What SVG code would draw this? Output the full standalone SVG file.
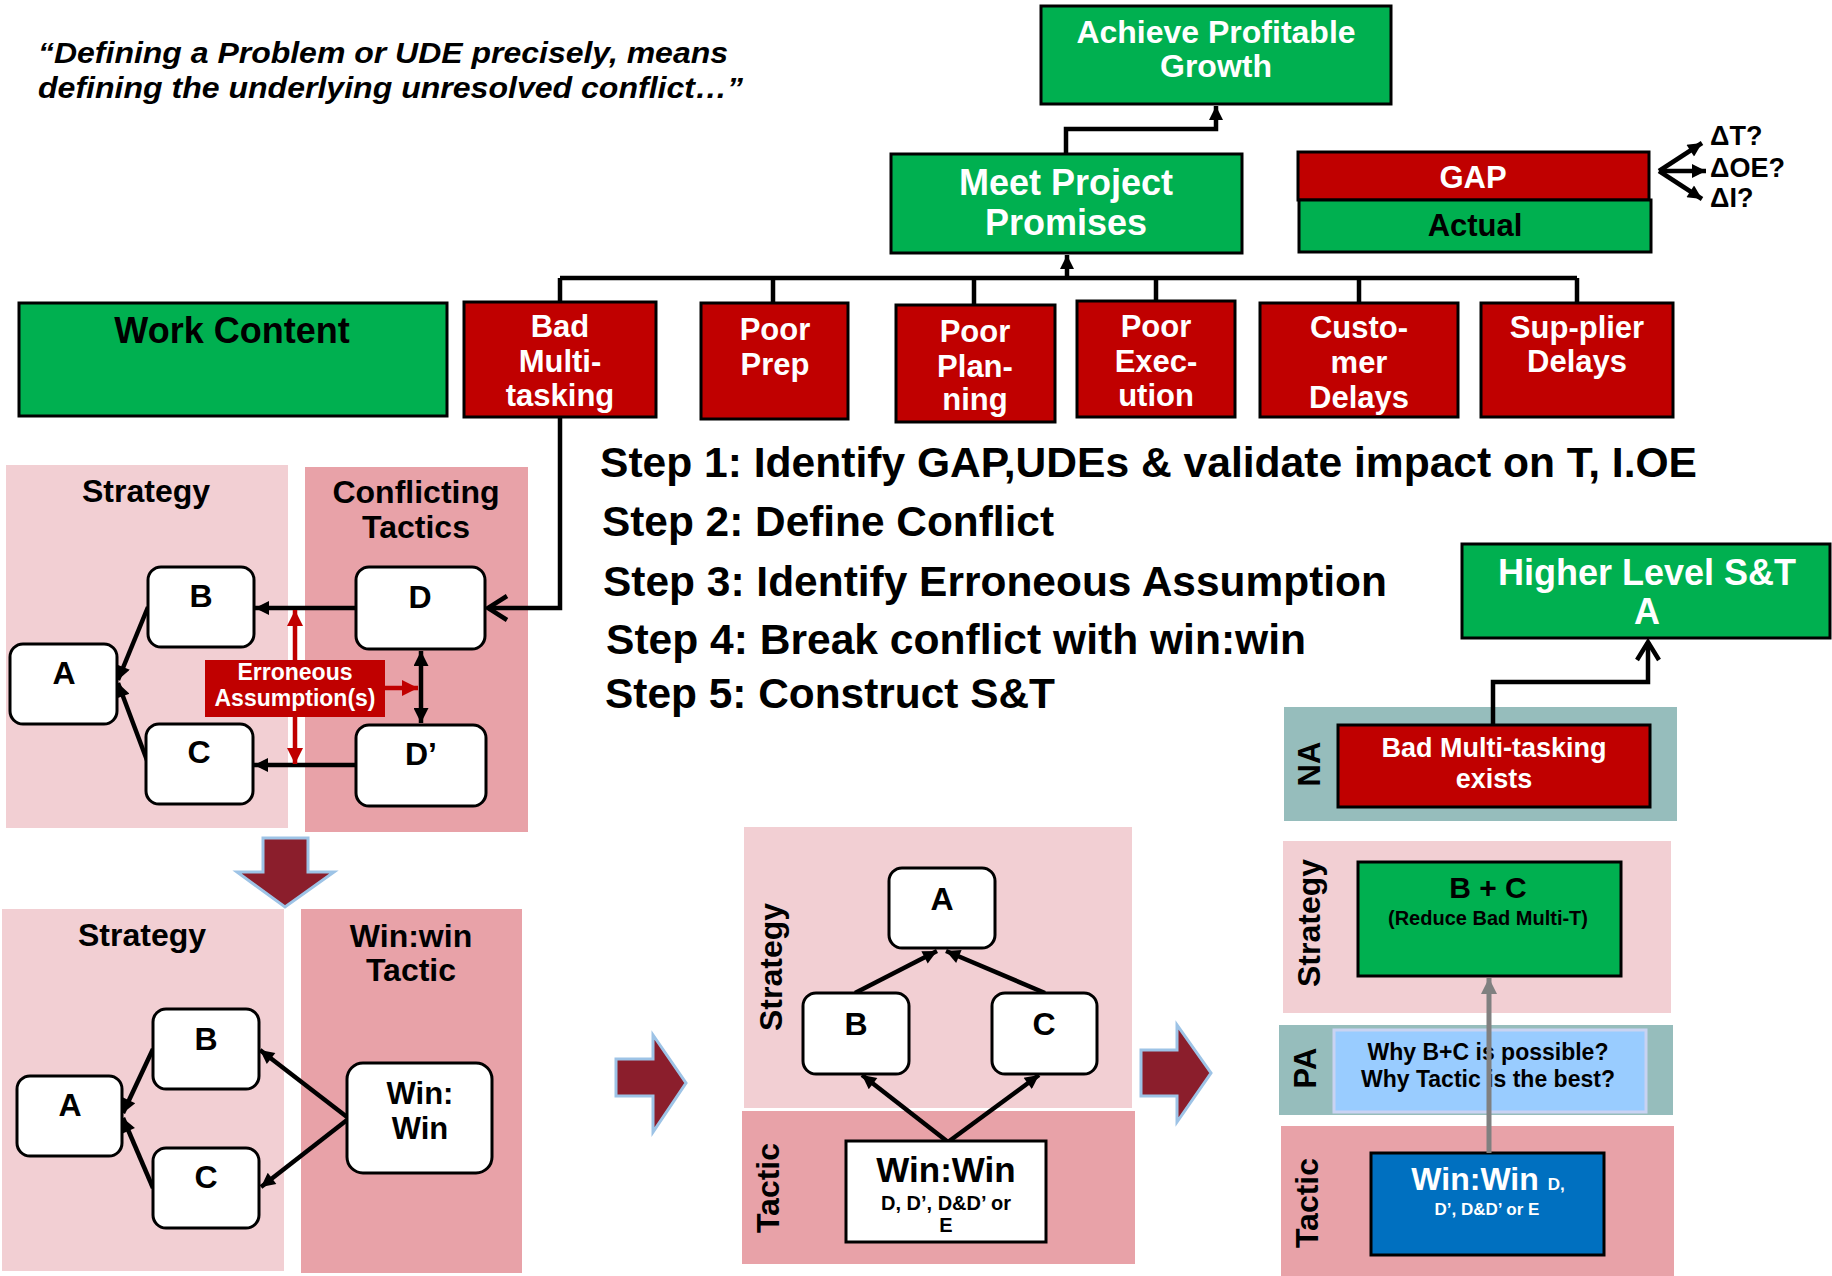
<svg xmlns="http://www.w3.org/2000/svg" width="1832" height="1276" viewBox="0 0 1832 1276">
  <defs>
    <style>
      text { font-family: "Liberation Sans", Arial, sans-serif; font-weight: bold; }
      .w { fill: #ffffff; }
      .k { fill: #000000; }
      .mid { text-anchor: middle; }
      .green { fill: #00B050; stroke: #000; stroke-width: 3; }
      .red { fill: #C00000; stroke: #000; stroke-width: 3; }
      .rbox { fill: #ffffff; stroke: #000; stroke-width: 3; }
      .pinkL { fill: #F2CFD3; }
      .pinkD { fill: #E8A2A8; }
      .teal { fill: #96BDBC; }
      .line { fill: none; stroke: #000; stroke-width: 4.5; }
      .bigarrow { fill: #8B1E2C; stroke: #9DC3E6; stroke-width: 3; }
    </style>
    <marker id="ah" viewBox="0 0 10 10" refX="10" refY="5" markerWidth="16" markerHeight="14" orient="auto" markerUnits="userSpaceOnUse">
      <path d="M0,0 L10,5 L0,10 z" fill="#000"/>
    </marker>
    <marker id="ahs" viewBox="0 0 10 10" refX="10" refY="5" markerWidth="18" markerHeight="15" orient="auto-start-reverse" markerUnits="userSpaceOnUse">
      <path d="M0,0 L10,5 L0,10 z" fill="#000"/>
    </marker>
    <marker id="ahr" viewBox="0 0 10 10" refX="10" refY="5" markerWidth="20" markerHeight="16" orient="auto-start-reverse" markerUnits="userSpaceOnUse">
      <path d="M0,0 L10,5 L0,10 z" fill="#C00000"/>
    </marker>
    <marker id="ahg" viewBox="0 0 10 10" refX="10" refY="5" markerWidth="18" markerHeight="16" orient="auto" markerUnits="userSpaceOnUse">
      <path d="M0,0 L10,5 L0,10 z" fill="#808080"/>
    </marker>
  </defs>

  <rect width="1832" height="1276" fill="#ffffff"/>

  <!-- quotation -->
  <g id="quote" font-style="italic" font-size="30">
    <text x="38" y="63" textLength="690" lengthAdjust="spacingAndGlyphs">“Defining a Problem or UDE precisely, means</text>
    <text x="38" y="98" textLength="705" lengthAdjust="spacingAndGlyphs">defining the underlying unresolved conflict…”</text>
  </g>

  <!-- background panels -->
  <g id="panels">
    <rect class="pinkL" x="6" y="465" width="282" height="363"/>
    <rect class="pinkD" x="305" y="467" width="223" height="365"/>
    <rect class="pinkL" x="2" y="909" width="282" height="362"/>
    <rect class="pinkD" x="301" y="909" width="221" height="364"/>
    <rect class="pinkL" x="744" y="827" width="388" height="281"/>
    <rect class="pinkD" x="742" y="1111" width="393" height="153"/>
    <rect class="teal" x="1284" y="707" width="393" height="114"/>
    <rect class="pinkL" x="1283" y="841" width="388" height="172"/>
    <rect class="teal" x="1279" y="1025" width="394" height="90"/>
    <rect class="pinkD" x="1281" y="1126" width="393" height="150"/>
  </g>

  <!-- panel headings -->
  <g id="panel-labels" font-size="32" class="k">
    <text class="mid" x="146" y="502">Strategy</text>
    <text class="mid" x="416" y="503">Conflicting</text>
    <text class="mid" x="416" y="538">Tactics</text>
    <text class="mid" x="142" y="946">Strategy</text>
    <text class="mid" x="411" y="947">Win:win</text>
    <text class="mid" x="411" y="981">Tactic</text>
    <text class="mid" dominant-baseline="central" transform="translate(771,967) rotate(-90)">Strategy</text>
    <text class="mid" dominant-baseline="central" transform="translate(768,1188) rotate(-90)">Tactic</text>
    <text class="mid" dominant-baseline="central" font-size="31" transform="translate(1309,764) rotate(-90)">NA</text>
    <text class="mid" dominant-baseline="central" transform="translate(1309,923) rotate(-90)">Strategy</text>
    <text class="mid" dominant-baseline="central" font-size="31" transform="translate(1305,1068) rotate(-90)">PA</text>
    <text class="mid" dominant-baseline="central" transform="translate(1307,1203) rotate(-90)">Tactic</text>
  </g>

  <!-- connectors -->
  <g id="connectors">
    <!-- goal tree -->
    <path class="line" d="M1066,154 V129 H1216 V106" marker-end="url(#ah)"/>
    <path class="line" d="M560,278 H1577"/>
    <path class="line" d="M1067,278 V255" marker-end="url(#ah)"/>
    <path class="line" d="M560,278 V302 M773,278 V303 M974,278 V305 M1156,278 V301 M1359,278 V303 M1577,278 V303"/>
    <!-- delta arrows from GAP -->
    <path class="line" stroke-width="5" d="M1659,171 L1702,143" marker-end="url(#ah)"/>
    <path class="line" stroke-width="5" d="M1659,171 L1706,171" marker-end="url(#ah)"/>
    <path class="line" stroke-width="5" d="M1659,171 L1702,199" marker-end="url(#ah)"/>
    <!-- Bad multi-tasking to D -->
    <path class="line" d="M560,417 V608 H488"/>
    <path class="line" d="M507,596 L488,608 L507,620"/>
    <!-- conflict cloud -->
    <path class="line" d="M148,607 L118,680" marker-end="url(#ah)"/>
    <path class="line" d="M148,763 L118,683" marker-end="url(#ah)"/>
    <path class="line" d="M356,608 H255" marker-end="url(#ah)"/>
    <path class="line" d="M356,765 H254" marker-end="url(#ah)"/>
    <path class="line" d="M421,651 V723" marker-start="url(#ahs)" marker-end="url(#ahs)"/>
    <path fill="none" stroke="#C00000" stroke-width="4.5" d="M295,610 V764" marker-start="url(#ahr)" marker-end="url(#ahr)"/>
    <path fill="none" stroke="#C00000" stroke-width="4.5" d="M385,688 H418" marker-end="url(#ahr)"/>
    <!-- win:win cloud -->
    <path class="line" d="M153,1049 L123,1113" marker-end="url(#ah)"/>
    <path class="line" d="M153,1188 L123,1118" marker-end="url(#ah)"/>
    <path class="line" d="M347,1117 L260,1050" marker-end="url(#ah)"/>
    <path class="line" d="M347,1120 L261,1187" marker-end="url(#ah)"/>
    <!-- S&T tree -->
    <path class="line" d="M855,993 L937,951" marker-end="url(#ah)"/>
    <path class="line" d="M1045,993 L946,951" marker-end="url(#ah)"/>
    <path class="line" d="M948,1142 L862,1075" marker-end="url(#ah)"/>
    <path class="line" d="M948,1142 L1039,1075" marker-end="url(#ah)"/>
    <!-- NA to higher level -->
    <path class="line" d="M1493,725 V682 H1648 V642"/>
    <path class="line" d="M1637,660 L1648,642 L1659,660"/>
  </g>

  <!-- big transition arrows -->
  <g id="transition-arrows">
    <polygon class="bigarrow" points="263,838 308,838 308,872 334,872 285,907 237,872 263,872"/>
    <polygon class="bigarrow" points="616,1059 653,1059 653,1035 686,1083 653,1132 653,1096 616,1096"/>
    <polygon class="bigarrow" points="1141,1050 1177,1050 1177,1025 1211,1073 1177,1122 1177,1096 1141,1096"/>
  </g>

  <!-- goal tree nodes -->
  <g id="node-achieve">
    <rect class="green" x="1041" y="6" width="350" height="98"/>
    <text class="w mid" font-size="32" x="1216" y="43">Achieve Profitable</text>
    <text class="w mid" font-size="32" x="1216" y="77">Growth</text>
  </g>
  <g id="node-meet">
    <rect class="green" x="891" y="154" width="351" height="99"/>
    <text class="w mid" font-size="36" x="1066" y="195">Meet Project</text>
    <text class="w mid" font-size="36" x="1066" y="235">Promises</text>
  </g>
  <g id="node-gap">
    <rect class="red" x="1298" y="152" width="351" height="48"/>
    <text class="w mid" font-size="31" x="1473" y="188">GAP</text>
  </g>
  <g id="node-actual">
    <rect class="green" x="1299" y="200" width="352" height="52"/>
    <text class="k mid" font-size="31" x="1475" y="236">Actual</text>
  </g>
  <g id="deltas" font-size="27" class="k">
    <text x="1710" y="145">ΔT?</text>
    <text x="1710" y="177">ΔOE?</text>
    <text x="1710" y="207">ΔI?</text>
  </g>
  <g id="node-work">
    <rect class="green" x="19" y="303" width="428" height="113"/>
    <text class="k mid" font-size="36" x="232" y="343">Work Content</text>
  </g>
  <g id="node-bad-mt" font-size="31">
    <rect class="red" x="464" y="302" width="192" height="115"/>
    <text class="w mid" x="560" y="337">Bad</text>
    <text class="w mid" x="560" y="372">Multi-</text>
    <text class="w mid" x="560" y="406">tasking</text>
  </g>
  <g id="node-poor-prep" font-size="31">
    <rect class="red" x="701" y="303" width="147" height="116"/>
    <text class="w mid" x="775" y="340">Poor</text>
    <text class="w mid" x="775" y="375">Prep</text>
  </g>
  <g id="node-poor-planning" font-size="31">
    <rect class="red" x="896" y="305" width="159" height="117"/>
    <text class="w mid" x="975" y="342">Poor</text>
    <text class="w mid" x="975" y="377">Plan-</text>
    <text class="w mid" x="975" y="410">ning</text>
  </g>
  <g id="node-poor-exec" font-size="31">
    <rect class="red" x="1077" y="301" width="158" height="116"/>
    <text class="w mid" x="1156" y="337">Poor</text>
    <text class="w mid" x="1156" y="372">Exec-</text>
    <text class="w mid" x="1156" y="406">ution</text>
  </g>
  <g id="node-customer" font-size="31">
    <rect class="red" x="1260" y="303" width="198" height="114"/>
    <text class="w mid" x="1359" y="338">Custo-</text>
    <text class="w mid" x="1359" y="373">mer</text>
    <text class="w mid" x="1359" y="408">Delays</text>
  </g>
  <g id="node-supplier" font-size="31">
    <rect class="red" x="1481" y="303" width="192" height="114"/>
    <text class="w mid" x="1577" y="338">Sup-plier</text>
    <text class="w mid" x="1577" y="372">Delays</text>
  </g>

  <!-- steps -->
  <g id="steps" font-size="42" class="k">
    <text x="600" y="477" textLength="1097" lengthAdjust="spacingAndGlyphs">Step 1: Identify GAP,UDEs &amp; validate impact on T, I.OE</text>
    <text x="602" y="536" textLength="452" lengthAdjust="spacingAndGlyphs">Step 2: Define Conflict</text>
    <text x="603" y="596" textLength="784" lengthAdjust="spacingAndGlyphs">Step 3: Identify Erroneous Assumption</text>
    <text x="606" y="654" textLength="700" lengthAdjust="spacingAndGlyphs">Step 4: Break conflict with win:win</text>
    <text x="605" y="708" textLength="450" lengthAdjust="spacingAndGlyphs">Step 5: Construct S&amp;T</text>
  </g>

  <!-- conflict cloud nodes -->
  <g id="c1-A"><rect class="rbox" x="10" y="644" width="107" height="80" rx="13"/><text class="k mid" font-size="32" x="64" y="684">A</text></g>
  <g id="c1-B"><rect class="rbox" x="148" y="567" width="106" height="80" rx="13"/><text class="k mid" font-size="32" x="201" y="607">B</text></g>
  <g id="c1-C"><rect class="rbox" x="146" y="724" width="107" height="80" rx="13"/><text class="k mid" font-size="32" x="199" y="763">C</text></g>
  <g id="c1-D"><rect class="rbox" x="356" y="567" width="129" height="82" rx="13"/><text class="k mid" font-size="32" x="420" y="608">D</text></g>
  <g id="c1-D2"><rect class="rbox" x="356" y="725" width="130" height="81" rx="13"/><text class="k mid" font-size="32" x="421" y="765">D’</text></g>
  <g id="c1-assumption">
    <rect fill="#C00000" x="205" y="660" width="180" height="57"/>
    <text class="w mid" font-size="23" x="295" y="680">Erroneous</text>
    <text class="w mid" font-size="23" x="295" y="706">Assumption(s)</text>
  </g>

  <!-- win:win cloud nodes -->
  <g id="c2-A"><rect class="rbox" x="17" y="1076" width="105" height="80" rx="13"/><text class="k mid" font-size="32" x="70" y="1116">A</text></g>
  <g id="c2-B"><rect class="rbox" x="153" y="1009" width="106" height="80" rx="13"/><text class="k mid" font-size="32" x="206" y="1050">B</text></g>
  <g id="c2-C"><rect class="rbox" x="153" y="1148" width="106" height="80" rx="13"/><text class="k mid" font-size="32" x="206" y="1188">C</text></g>
  <g id="c2-winwin">
    <rect class="rbox" x="347" y="1063" width="145" height="110" rx="16"/>
    <text class="k mid" font-size="31" x="420" y="1104">Win:</text>
    <text class="k mid" font-size="31" x="420" y="1139">Win</text>
  </g>

  <!-- S&T tree nodes -->
  <g id="st-A"><rect class="rbox" x="889" y="868" width="106" height="80" rx="13"/><text class="k mid" font-size="32" x="942" y="910">A</text></g>
  <g id="st-B"><rect class="rbox" x="803" y="993" width="106" height="81" rx="13"/><text class="k mid" font-size="32" x="856" y="1035">B</text></g>
  <g id="st-C"><rect class="rbox" x="992" y="993" width="105" height="81" rx="13"/><text class="k mid" font-size="32" x="1044" y="1035">C</text></g>
  <g id="st-winwin">
    <rect class="rbox" x="846" y="1141" width="200" height="101"/>
    <text class="k mid" font-size="35" x="946" y="1182">Win:Win</text>
    <text class="k mid" font-size="20" x="946" y="1210">D, D’, D&amp;D’ or</text>
    <text class="k mid" font-size="20" x="946" y="1232">E</text>
  </g>

  <!-- S&T card nodes -->
  <g id="node-higher">
    <rect class="green" x="1462" y="544" width="368" height="94"/>
    <text class="w mid" font-size="36" x="1647" y="585">Higher Level S&amp;T</text>
    <text class="w mid" font-size="36" x="1647" y="624">A</text>
  </g>
  <g id="node-na">
    <rect class="red" x="1338" y="725" width="312" height="82"/>
    <text class="w mid" font-size="27" x="1494" y="757">Bad Multi-tasking</text>
    <text class="w mid" font-size="27" x="1494" y="788">exists</text>
  </g>
  <g id="node-bc">
    <rect class="green" x="1358" y="862" width="263" height="114"/>
    <text class="k mid" font-size="30" x="1488" y="898">B + C</text>
    <text class="k mid" font-size="20" x="1488" y="925">(Reduce Bad Multi-T)</text>
  </g>
  <g id="node-pa">
    <rect fill="#99CCFF" stroke="#C9D3F2" stroke-width="3" x="1334" y="1030" width="312" height="82"/>
    <text class="k mid" font-size="23" x="1488" y="1060">Why B+C is possible?</text>
    <text class="k mid" font-size="23" x="1488" y="1087">Why Tactic is the best?</text>
  </g>
  <g id="node-tactic">
    <rect fill="#0070C0" stroke="#000" stroke-width="3" x="1371" y="1153" width="233" height="102"/>
    <text class="w mid" x="1488" y="1190"><tspan font-size="32">Win:Win </tspan><tspan font-size="17"> D,</tspan></text>
    <text class="w mid" font-size="17" x="1487" y="1215">D’, D&amp;D’ or E</text>
  </g>
  <g id="pa-connector">
    <path fill="none" stroke="#808080" stroke-width="5" d="M1489,1153 V978" marker-end="url(#ahg)"/>
  </g>
</svg>
